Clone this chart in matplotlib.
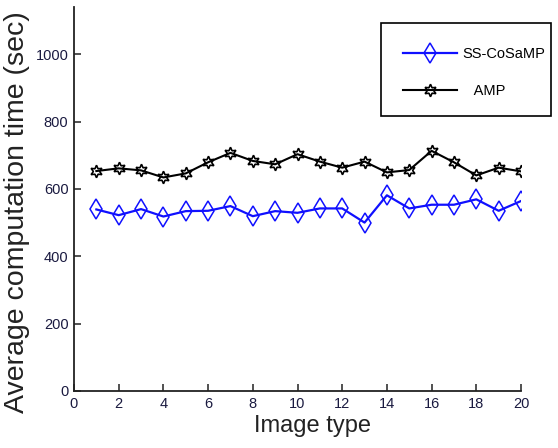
import matplotlib
matplotlib.use("Agg")
import matplotlib.pyplot as plt
from matplotlib.patches import Rectangle

image_type = list(range(1, 21))
ss_cosamp = [539, 522, 540, 518, 534, 535, 549, 519, 534, 529,
             542, 542, 500, 581, 542, 553, 553, 569, 535, 564]
amp = [653, 661, 655, 634, 646, 679, 707, 683, 673, 703,
       681, 663, 681, 649, 656, 713, 679, 640, 663, 652]
xticks = list(range(0, 21, 2))
yticks = list(range(0, 1001, 200))

font = ['Liberation Sans', 'DejaVu Sans']
W, H = 558, 448

fig = plt.figure(figsize=(5.58, 4.48), dpi=100)
ax = fig.add_axes([74/W, 1-391/H, (521-74)/W, (391-7)/H])

ax.plot(image_type, ss_cosamp, color='#1010ff', lw=1.6, marker='d', ms=10.5,
        mfc='none', mec='#1010ff', mew=1.1, label='SS-CoSaMP')
ax.plot(image_type, amp, color='black', lw=1.5, marker=(6, 1, 0), ms=9,
        mfc='none', mec='black', mew=1.2, label='   AMP')

ax.set_xlim(0, 20)
ax.set_ylim(0, 1140)
ax.set_xticks(xticks)
ax.set_yticks(yticks)
for s in ['top', 'right']:
    ax.spines[s].set_visible(False)
for s in ['left', 'bottom']:
    ax.spines[s].set_linewidth(1.3)
    ax.spines[s].set_color('#222222')
ax.tick_params(direction='in', length=5, width=1.1, pad=4, colors='#222222')
for lab in ax.get_xticklabels() + ax.get_yticklabels():
    lab.set_family(font)
    lab.set_fontsize(10.5)
    lab.set_color('#1a1a40')

ax.set_xlabel('Image type', family=font, fontsize=17, color='#222222')
ax.xaxis.set_label_coords((312-74)/447, -(415-391)/384)
ax.set_ylabel('Average computation time (sec)', family=font,
              fontsize=20.5, color='#222222')
ax.yaxis.set_label_coords(-(74-30)/447, (391-212)/384)

# legend frame
fig.patches.append(Rectangle((381/W, 1-116/H), (551-381)/W, (116-23)/H,
                             transform=fig.transFigure, fill=True, facecolor='white',
                             edgecolor='black', lw=1.2, zorder=3))
leg = fig.legend(loc='upper left', bbox_to_anchor=(403/W, 1-47/H),
                 prop={'family': font, 'size': 10.5},
                 handlelength=3.7, handletextpad=0.35, labelspacing=1.6,
                 borderpad=0, borderaxespad=0, frameon=False)
leg.set_zorder(4)

fig.savefig('out.png', dpi=100)
